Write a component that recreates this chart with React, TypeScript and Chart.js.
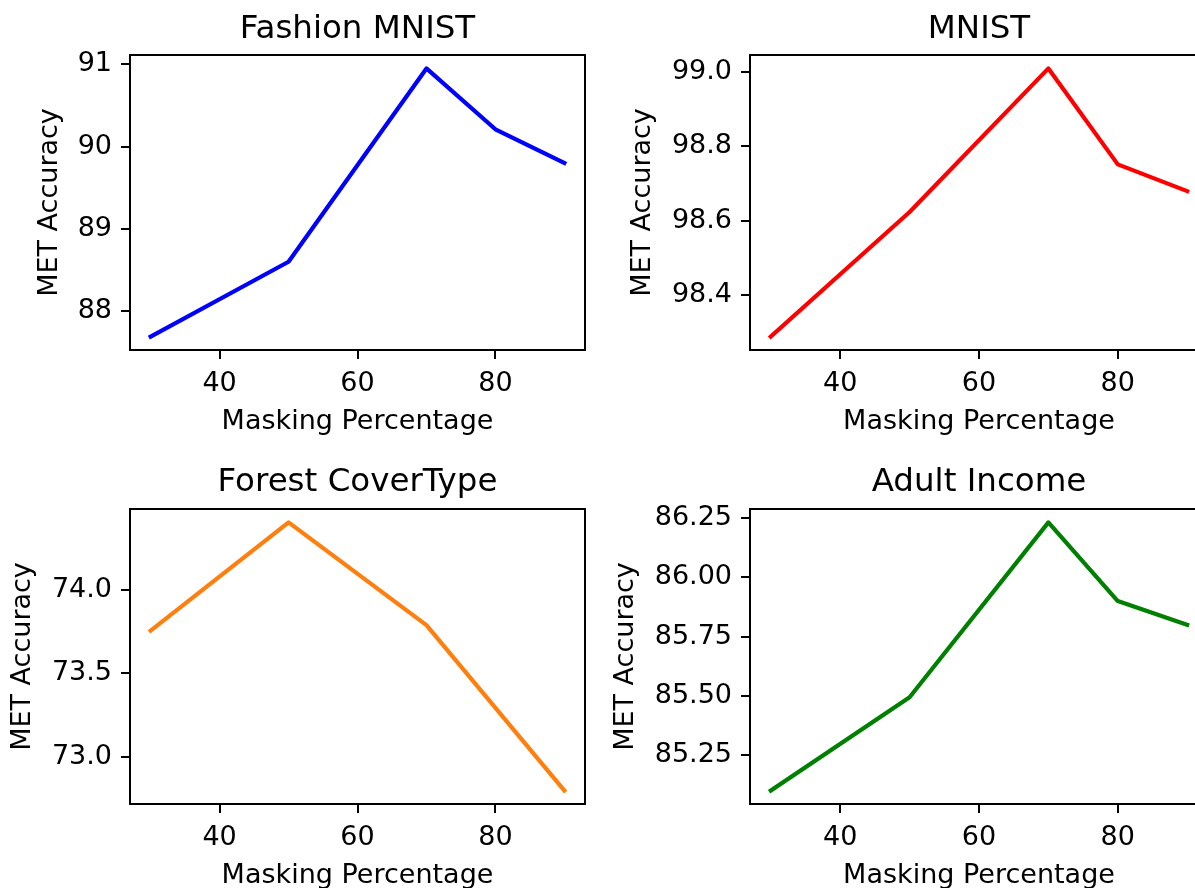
import { useEffect, useRef } from "react";
import { Chart, registerables } from "chart.js";

Chart.register(...registerables);

// ---- data ----
const maskingPct = [30, 50, 70, 80, 90];
const forestMaskingPct = [30, 50, 70, 90];
const fashionAcc = [87.69, 88.6, 90.95, 90.21, 89.8];
const mnistAcc = [98.288, 98.623, 99.009, 98.751, 98.679];
const forestAcc = [73.757, 74.408, 73.79, 72.795];
const adultAcc = [85.1, 85.494, 86.232, 85.9, 85.8];

const xTicks = [40, 60, 80];
const fashionTicks = [88, 89, 90, 91];
const mnistTicks = [98.4, 98.6, 98.8, 99.0];
const forestTicks = [73.0, 73.5, 74.0];
const adultTicks = [85.25, 85.5, 85.75, 86.0, 86.25];

const FONT = "'DejaVu Sans', 'Liberation Sans', sans-serif";
const TICK_SIZE = 27;
const TITLE_SIZE = 32.5;

type PanelCfg = {
  title: string;
  xs: number[];
  ys: number[];
  color: string;
  yTicks: number[];
  decimals: number;
  left: number;
  top: number;
  width: number;
  yAxisWidth: number;
  yTitlePad: number;
  titlePadTop: number;
};

const H = 444;
const CHART_TOP = 55;
const CHART_BOTTOM = 350;

const panels: PanelCfg[] = [
  { title: "Fashion MNIST", xs: maskingPct, ys: fashionAcc, color: "#0000ff", yTicks: fashionTicks, decimals: 0,
    left: 0, top: 0, width: 600, yAxisWidth: 130, yTitlePad: 34, titlePadTop: 9.6 },
  { title: "MNIST", xs: maskingPct, ys: mnistAcc, color: "#ff0000", yTicks: mnistTicks, decimals: 1,
    left: 600, top: 0, width: 623, yAxisWidth: 150, yTitlePad: 27, titlePadTop: 9.6 },
  { title: "Forest CoverType", xs: forestMaskingPct, ys: forestAcc, color: "#ff7f0e", yTicks: forestTicks, decimals: 1,
    left: 0, top: 454, width: 600, yAxisWidth: 130, yTitlePad: 7, titlePadTop: 9.0 },
  { title: "Adult Income", xs: maskingPct, ys: adultAcc, color: "#008000", yTicks: adultTicks, decimals: 2,
    left: 600, top: 454, width: 623, yAxisWidth: 150, yTitlePad: 10, titlePadTop: 9.0 },
];

const framePlugin = {
  id: "frame",
  afterDraw(chart: any) {
    const { ctx, chartArea } = chart;
    const { left, top, right, bottom } = chartArea;
    ctx.save();
    ctx.strokeStyle = "#000";
    ctx.lineWidth = 2;
    ctx.strokeRect(left, top, right - left, bottom - top);
    ctx.restore();
  },
};

function Panel({ cfg }: { cfg: PanelCfg }) {
  const ref = useRef<HTMLCanvasElement>(null);
  useEffect(() => {
    const lo = Math.min(...cfg.ys);
    const hi = Math.max(...cfg.ys);
    const m = (hi - lo) * 0.05;
    const xlo = Math.min(...cfg.xs);
    const xhi = Math.max(...cfg.xs);
    const xm = (xhi - xlo) * 0.05;
    const titleLine = TITLE_SIZE * 1.2;
    const chart = new Chart(ref.current!, {
      type: "line",
      data: {
        datasets: [
          {
            data: cfg.xs.map((x, i) => ({ x, y: cfg.ys[i] })),
            borderColor: cfg.color,
            backgroundColor: cfg.color,
            borderWidth: 4.2,
            pointRadius: 0,
            borderJoinStyle: "round",
            borderCapStyle: "square",
            tension: 0,
            fill: false,
          },
        ],
      },
      options: {
        responsive: false,
        animation: false,
        devicePixelRatio: 1,
        layout: { padding: { left: 0, right: 15, top: 0, bottom: 0 } },
        plugins: {
          legend: { display: false },
          tooltip: { enabled: false },
          title: {
            display: true,
            text: cfg.title,
            fullSize: false,
            color: "#000",
            font: { family: FONT, size: TITLE_SIZE, weight: "normal", lineHeight: 1.2 },
            padding: { top: cfg.titlePadTop, bottom: CHART_TOP - cfg.titlePadTop - titleLine },
          },
        },
        scales: {
          x: {
            type: "linear",
            min: xlo - xm,
            max: xhi + xm,
            afterBuildTicks: (scale: any) => {
              scale.ticks = xTicks.map((v) => ({ value: v }));
            },
            afterFit: (scale: any) => {
              scale.height = H - CHART_BOTTOM;
            },
            ticks: {
              color: "#000",
              padding: 8.6,
              maxRotation: 0,
              autoSkip: false,
              font: { family: FONT, size: TICK_SIZE, lineHeight: 1.2 },
              callback: (v: any) => String(v),
            },
            grid: { drawOnChartArea: false, drawTicks: true, tickLength: 9, color: "#000", lineWidth: 2 },
            border: { display: false },
            title: {
              display: true,
              text: "Masking Percentage",
              color: "#000",
              font: { family: FONT, size: TICK_SIZE, lineHeight: 1.2 },
              padding: { top: 0, bottom: 5.5 },
            },
          },
          y: {
            type: "linear",
            min: lo - m,
            max: hi + m,
            afterBuildTicks: (scale: any) => {
              scale.ticks = cfg.yTicks.map((v) => ({ value: v }));
            },
            afterFit: (scale: any) => {
              scale.width = cfg.yAxisWidth;
            },
            ticks: {
              color: "#000",
              padding: 9,
              autoSkip: false,
              font: { family: FONT, size: TICK_SIZE, lineHeight: 1.2 },
              callback: (v: any) => Number(v).toFixed(cfg.decimals),
            },
            grid: { drawOnChartArea: false, drawTicks: true, tickLength: 9, color: "#000", lineWidth: 2 },
            border: { display: false },
            title: {
              display: true,
              text: "MET Accuracy",
              color: "#000",
              font: { family: FONT, size: TICK_SIZE, lineHeight: 1.2 },
              padding: { top: cfg.yTitlePad, bottom: 0 },
            },
          },
        },
      } as any,
      plugins: [framePlugin],
    });
    return () => chart.destroy();
  }, []);
  return (
    <canvas
      ref={ref}
      width={cfg.width}
      height={H}
      style={{ position: "absolute", left: cfg.left, top: cfg.top, width: cfg.width, height: H }}
    />
  );
}

export default function App() {
  return (
    <div
      style={{
        position: "fixed",
        left: 0,
        top: 0,
        width: 1195,
        height: 888,
        overflow: "hidden",
        background: "#fff",
      }}
    >
      {panels.map((p) => (
        <Panel key={p.title} cfg={p} />
      ))}
    </div>
  );
}
